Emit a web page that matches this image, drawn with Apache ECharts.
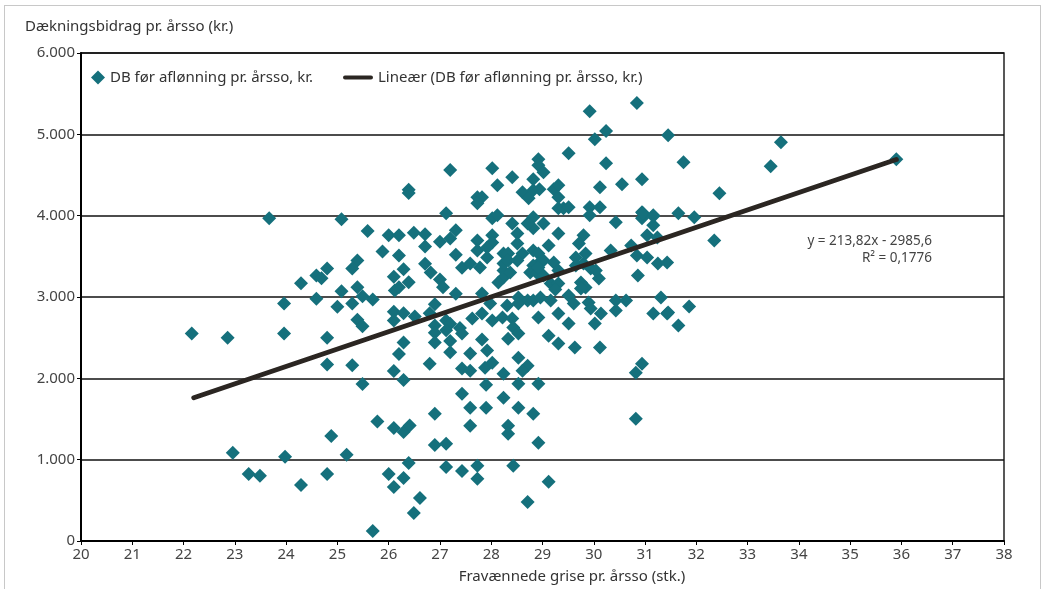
<!DOCTYPE html>
<html>
<head>
<meta charset="utf-8">
<script src="https://cdn.jsdelivr.net/npm/echarts@6/dist/echarts.min.js"></script>
<style>
html, body { margin: 0; padding: 0; background: #fff; }
#frame { position: absolute; left: 4px; top: 5px; width: 1035px; height: 620px; border: 1.5px solid #c8c8c8; }
#chart { position: absolute; left: 0; top: 0; width: 1042px; height: 589px; }
</style>
</head>
<body>
<div id="frame"></div>
<div id="chart"></div>
<script>
// fravænnede grise pr. årsso (x) og DB pr. årsso (y)
var farrowed = [
  27.2, 26.39, 26.39, 25.08, 27.12, 25.59, 26.0, 26.2, 26.49, 26.71, 27.0, 27.2, 27.31,
  26.71, 25.88, 26.2, 27.31, 25.39, 25.29, 24.8, 24.59, 24.69, 26.29, 26.71, 26.82, 27.43,
  24.29, 26.1, 26.39, 27.0, 27.06, 25.08, 25.39, 25.49, 26.12, 26.2, 27.31, 23.96, 24.59,
  25.0, 25.29, 25.69, 26.9, 26.1, 26.29, 26.51, 26.8, 25.39, 25.49, 26.1, 27.12, 27.2,
  26.9, 26.9, 27.12, 27.39, 27.43, 27.63, 23.96, 24.8, 26.29, 26.9, 27.2,
  26.2, 27.2, 24.8, 25.29, 26.1, 26.8, 27.43, 26.29, 25.49, 27.43, 26.9, 25.78, 26.1,
  26.29, 26.41, 24.88, 26.9, 27.12, 23.98, 25.18, 26.39, 27.12, 27.43, 24.8, 24.29, 26.0,
  26.1, 26.29, 26.61, 26.49, 25.69,
  29.92, 30.84, 30.24, 30.02, 29.51, 28.92, 28.92, 29.02, 28.02, 30.24, 28.41, 28.82,
  28.12, 30.94, 30.12, 30.55, 29.22, 29.31, 28.61, 28.73, 28.82, 28.94, 27.73, 27.82,
  27.73, 29.31, 29.31, 29.41, 29.51, 29.92, 29.92, 30.12, 30.94, 31.16, 30.94, 28.02,
  28.12, 28.82, 28.82, 29.02, 28.41, 28.71, 30.43, 27.73, 27.73, 28.02, 28.02, 27.92,
  28.51, 28.51, 29.31, 29.12, 29.8, 29.71, 29.84, 31.04, 31.16, 30.33, 30.73, 30.84,
  31.04, 31.25, 31.43, 28.24, 28.33, 28.24, 28.33, 28.61, 28.51, 28.82, 28.92, 28.92,
  28.82, 29.02, 29.22, 29.31, 29.65, 29.65, 29.8, 29.94, 30.1, 30.04, 27.59, 27.78,
  27.92, 28.24, 28.24, 28.14, 28.37, 28.76, 28.9, 29.02, 28.92, 29.16, 29.31, 29.25,
  29.75, 29.84, 29.75, 27.82, 28.53, 28.71, 28.82, 28.96, 29.16, 29.51, 29.61, 29.9,
  29.94, 30.43, 30.63, 30.86, 31.31,
  29.31, 29.51, 30.02, 30.14, 30.43, 31.16, 31.43, 28.92, 28.53, 28.31, 27.98, 27.82,
  28.02, 28.22, 28.41, 28.43, 28.53, 28.33, 29.12, 29.31, 29.63, 30.12, 27.82, 27.92,
  27.59, 27.59, 27.88, 28.02, 28.53, 28.71, 28.61, 28.24, 30.94, 30.82, 27.9, 28.53,
  28.92, 28.24, 27.59, 27.9, 28.53, 28.82, 27.59, 28.33, 28.33, 28.92, 30.82, 27.73,
  27.73, 28.43, 29.12, 28.71,
  31.45, 33.65, 31.75, 33.45, 35.9, 32.45, 30.96, 31.16, 31.65, 31.96, 31.24, 32.35,
  31.45, 31.86, 31.65,
  23.67, 22.16, 22.86, 22.96, 23.27, 23.49
];
var contribution = [
  4560, 4320, 4280, 3955, 4030, 3810, 3760, 3760, 3790, 3770, 3680, 3720, 3820,
  3620, 3560, 3510, 3520, 3450, 3350, 3350, 3265, 3230, 3340, 3410, 3300, 3360,
  3170, 3250, 3180, 3215, 3120, 3070, 3120, 3010, 3080, 3120, 3040, 2920, 2980,
  2880, 2920, 2970, 2910, 2820, 2800, 2760, 2800, 2720, 2640, 2710, 2710, 2670,
  2650, 2560, 2590, 2620, 2550, 2735, 2550, 2500, 2440, 2440, 2460,
  2300, 2320, 2170, 2160, 2090, 2180, 2120, 1980, 1930, 1810, 1565, 1470, 1390,
  1340, 1420, 1290, 1180, 1195, 1035, 1060, 960, 910, 860, 825, 690, 825,
  665, 776, 530, 345, 123,
  5285, 5384, 5040, 4940, 4768, 4694, 4620, 4534, 4583, 4645, 4472, 4448,
  4374, 4448, 4349, 4386, 4324, 4374, 4287, 4213, 4312, 4324, 4225, 4225,
  4152, 4225, 4090, 4090, 4103, 4103, 4004, 4103, 4041, 4004, 3967, 3967,
  4004, 3979, 3844, 3905, 3905, 3905, 3918, 3696, 3573, 3758, 3671, 3610,
  3782, 3659, 3782, 3634, 3758, 3659, 3536, 3758, 3881, 3573, 3634, 3511,
  3487, 3412, 3425, 3536, 3536, 3412, 3450, 3536, 3450, 3573, 3536, 3412,
  3388, 3450, 3425, 3326, 3487, 3388, 3412, 3351, 3228, 3326, 3412, 3363,
  3487, 3326, 3240, 3178, 3302, 3302, 3289, 3265, 3363, 3166, 3166, 3092,
  3178, 3117, 3105, 3043, 2994, 2957, 2957, 2994, 2957, 3018, 2920, 2932,
  2858, 2957, 2957, 3265, 2994,
  2797, 2673, 2673, 2797, 2834, 2797, 2797, 2747, 2920, 2895, 2920, 2797,
  2710, 2747, 2735, 2624, 2550, 2488, 2525, 2427, 2378, 2378, 2476, 2341,
  2304, 2094, 2131, 2193, 2254, 2156, 2094, 2057, 2180, 2070, 1922, 1934,
  1934, 1762, 1638, 1638, 1638, 1565, 1417, 1417, 1318, 1207, 1503, 924,
  764, 924, 727, 480,
  4990, 4903, 4657, 4608, 4694, 4275, 4029, 3992, 4029, 3979, 3733, 3696,
  2809, 2883, 2649,
  3967, 2550, 2500, 1084, 825, 801
];

// lineær tendenslinje som angivet i figuren
var trendSlope = 213.82;
var trendIntercept = -2985.6;
var trendRange = [22.2, 35.9];
var equationText = ['y = 213,82x - 2985,6', 'R² = 0,1776'];

var seriesName = 'DB før aflønning pr. årsso, kr.';
var trendName = 'Lineær (DB før aflønning pr. årsso, kr.)';

var points = farrowed.map(function (x, i) { return [x, contribution[i]]; });
var trendPoints = trendRange.map(function (x) { return [x, trendSlope * x + trendIntercept]; });

var font = "'Noto Sans', sans-serif";
var legendText = { fontFamily: font, fontSize: 15, color: '#333' };

var chart = echarts.init(document.getElementById('chart'));
chart.setOption({
  animation: false,
  textStyle: { fontFamily: font },
  grid: { left: 81, right: 38, top: 53, bottom: 48, show: true, borderColor: '#222', borderWidth: 1.5 },
  legend: [
    {
      left: 86, top: 65, itemWidth: 14, itemHeight: 14, itemGap: 8,
      textStyle: legendText,
      data: [{ name: seriesName, icon: 'diamond' }]
    },
    {
      left: 338, top: 65, itemWidth: 30, itemHeight: 14, itemGap: 8,
      textStyle: legendText,
      data: [{ name: trendName, icon: 'path://M2,0 L28,0 A2,2 0 0 1 28,4 L2,4 A2,2 0 0 1 2,0 Z' }]
    }
  ],
  xAxis: {
    type: 'value', min: 20, max: 38, interval: 1,
    axisLine: { show: true, lineStyle: { color: '#000', width: 2 } },
    axisTick: { show: true, length: 4, lineStyle: { color: '#000' } },
    axisLabel: { color: '#444', fontSize: 15, margin: 6, fontFamily: font },
    splitLine: { show: false }
  },
  yAxis: {
    type: 'value', min: 0, max: 6000, interval: 1000,
    axisLine: { show: true, lineStyle: { color: '#000', width: 2 } },
    axisTick: { show: true, length: 4, lineStyle: { color: '#000' } },
    axisLabel: {
      color: '#444', fontSize: 15, margin: 6, fontFamily: font,
      formatter: function (v) { return v === 0 ? '0' : (v / 1000) + '.000'; }
    },
    splitLine: { show: true, lineStyle: { color: '#111', width: 1.5 } }
  },
  graphic: [
    { type: 'text', left: 25, top: 19, style: { text: 'Dækningsbidrag pr. årsso (kr.)', font: '15px ' + font, fill: '#333' } },
    { type: 'text', x: 572, y: 577, style: { text: 'Fravænnede grise pr. årsso (stk.)', font: '15px ' + font, fill: '#333', align: 'center', verticalAlign: 'middle' } },
    { type: 'text', x: 932, y: 241, style: { text: equationText[0], font: '13.5px ' + font, fill: '#444', align: 'right', verticalAlign: 'middle' } },
    { type: 'text', x: 932, y: 258, style: { text: equationText[1], font: '13.5px ' + font, fill: '#444', align: 'right', verticalAlign: 'middle' } }
  ],
  series: [
    {
      name: seriesName,
      type: 'scatter',
      symbol: 'diamond',
      symbolSize: 14,
      itemStyle: { color: '#15707c', opacity: 1 },
      data: points,
      z: 2
    },
    {
      name: trendName,
      type: 'line',
      showSymbol: false,
      symbol: 'none',
      lineStyle: { color: '#2b2622', width: 5, cap: 'round' },
      itemStyle: { color: '#2b2622' },
      data: trendPoints,
      z: 3
    }
  ]
});
</script>
</body>
</html>
